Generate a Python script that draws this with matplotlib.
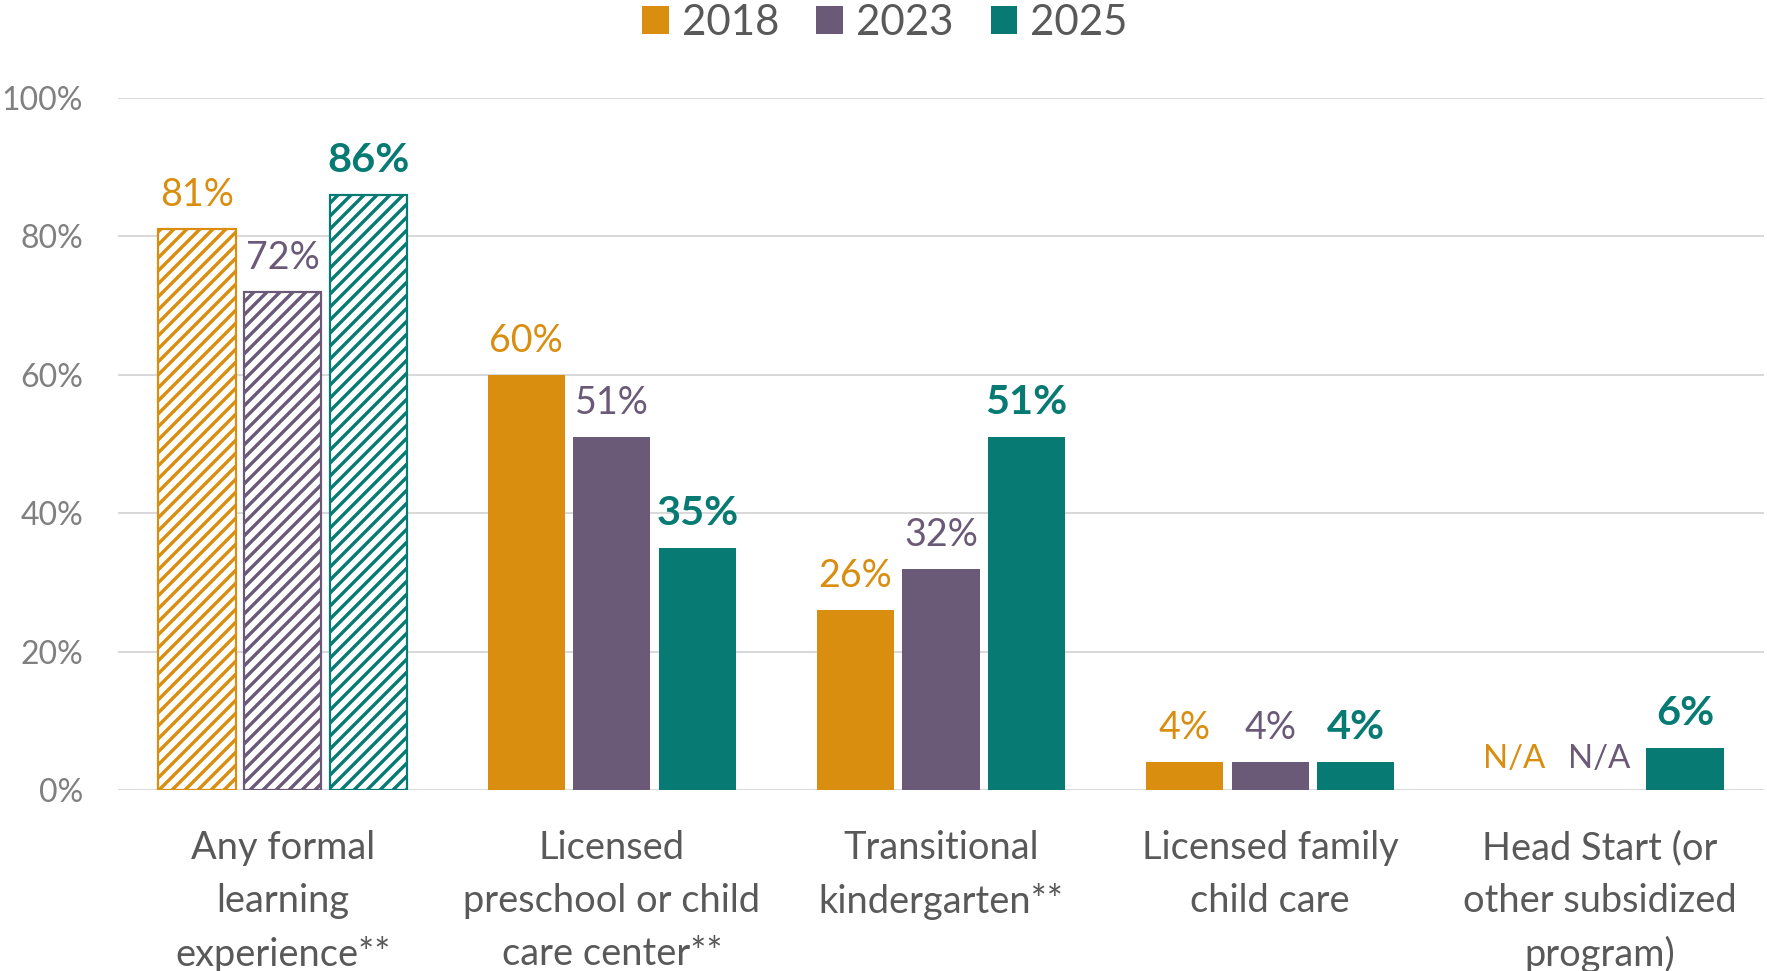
import numpy as np
import matplotlib
matplotlib.use("Agg")
import matplotlib.pyplot as plt
import matplotlib.transforms as mtransforms
from matplotlib.patches import Patch

DPI = 156
def px(v):
    return v * 72.0 / DPI

categories = ["Any formal\nlearning\nexperience**",
              "Licensed\npreschool or child\ncare center**",
              "Transitional\nkindergarten**",
              "Licensed family\nchild care",
              "Head Start (or\nother subsidized\nprogram)"]
years = ["2018", "2023", "2025"]
v2018 = [81, 60, 26, 4, np.nan]
v2023 = [72, 51, 32, 4, np.nan]
v2025 = [86, 35, 51, 4, 6]
yticks = [0, 20, 40, 60, 80, 100]
ytick_labels = ["0%", "20%", "40%", "60%", "80%", "100%"]

colors = ["#D98E10", "#6B5978", "#077B73"]
series = [v2018, v2023, v2025]

plt.rcParams['font.family'] = ['Lato', 'DejaVu Sans']
plt.rcParams['hatch.linewidth'] = px(3.4)

fig = plt.figure(figsize=(1767 / DPI, 971 / DPI), dpi=DPI)
ax = fig.add_axes([118 / 1767, 1 - 790 / 971, (1764 - 118) / 1767, (790 - 98) / 971])

x = np.arange(len(categories))
step = 0.26
width = 0.234

na_offset = mtransforms.ScaledTranslation(0, 22 / DPI, fig.dpi_scale_trans)

for si, (vals, col) in enumerate(zip(series, colors)):
    xs = x + (si - 1) * step
    for ci, v in enumerate(vals):
        if np.isnan(v):
            ax.text(xs[ci], 0, "N/A", ha='center', va='baseline',
                    color=col, fontsize=px(33),
                    transform=ax.transData + na_offset)
            continue
        if ci == 0:
            ax.bar(xs[ci], v, width, facecolor='white', edgecolor=col,
                   linewidth=px(2.2), hatch='////', zorder=3)
        else:
            ax.bar(xs[ci], v, width, color=col, edgecolor='none', zorder=3)
        bold = (si == 2)
        ax.annotate(f"{v:.0f}%", (xs[ci], v), xytext=(0, px(23)),
                    textcoords='offset points', ha='center', va='baseline',
                    color=col, fontsize=px(41.5 if bold else 37.7),
                    fontweight='bold' if bold else 'normal',
                    annotation_clip=False)

ax.set_xlim(-0.5, 4.5)
ax.set_ylim(0, 100)
ax.set_yticks(yticks)
ax.set_yticklabels(ytick_labels)
ax.set_xticks(x)
ax.set_xticklabels(categories)
ax.yaxis.grid(True, color='#D9D9D9', linewidth=px(2))
ax.set_axisbelow(True)
for s in ax.spines.values():
    s.set_visible(False)
ax.tick_params(axis='y', length=0, pad=px(35), labelsize=px(32), labelcolor='#808080')
ax.tick_params(axis='x', length=0, pad=px(40), labelsize=px(38), labelcolor='#595959')
for lab in ax.get_xticklabels():
    lab.set_linespacing(1.58)

handles = [Patch(facecolor=c, edgecolor='none') for c in colors]
fig.legend(handles, years, loc='center', bbox_to_anchor=(885 / 1767, 1 - 23 / 971),
           ncol=3, frameon=False, fontsize=px(42), labelcolor='#595959',
           handlelength=0.64, handleheight=0.64, handletextpad=0.31,
           columnspacing=0.88, borderaxespad=0, borderpad=0)

fig.savefig("out.png", dpi=DPI)
